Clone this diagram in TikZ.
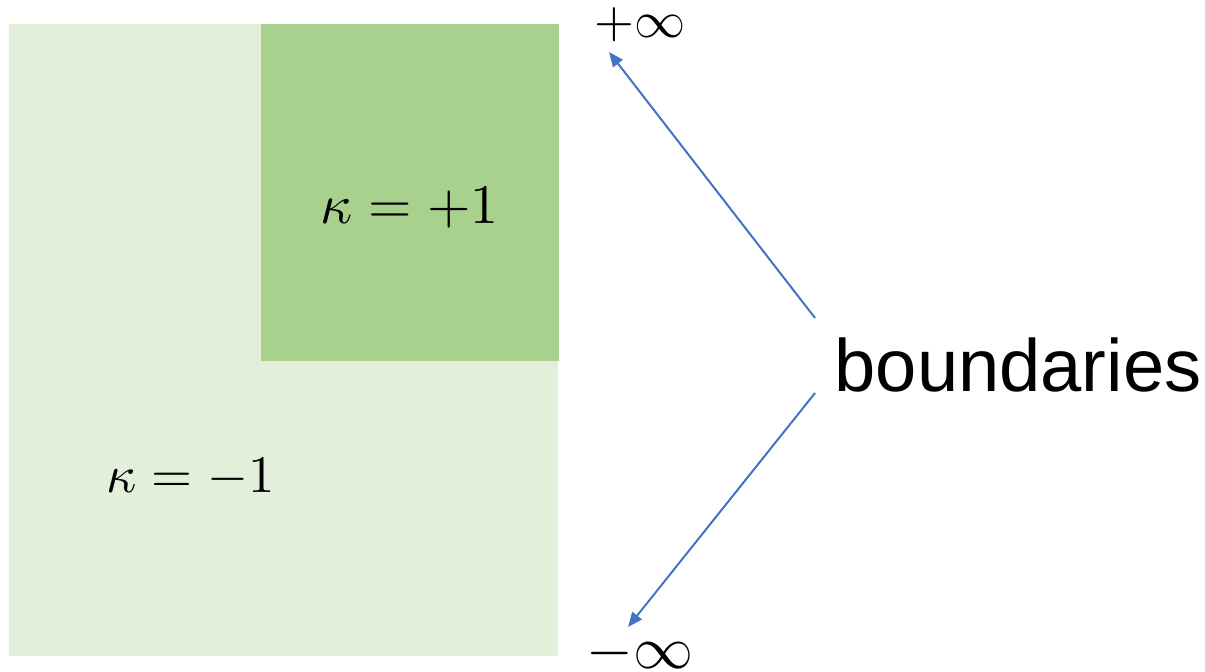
\documentclass[tikz,border=0pt]{standalone}
\usepackage{graphicx}
\usepackage{fontspec}
\newfontfamily\arialfont{Liberation Sans}
\usetikzlibrary{arrows.meta}
\definecolor{lightg}{HTML}{E2EFDA}
\definecolor{darkg}{HTML}{A9D18E}
\definecolor{arrowblue}{HTML}{4472C4}
\tikzset{
  mathlabel/.style={inner sep=0pt},
  conn/.style={draw=arrowblue, line width=1.5pt, -{Triangle[length=11pt,width=9pt]}}
}
\begin{document}
\begin{tikzpicture}[x=0.75pt,y=-0.75pt]
\useasboundingbox (0,0) rectangle (1205,671);
\fill[lightg] (9,24) rectangle (558,656);
\fill[darkg] (261,24) rectangle (559,361);
\node[mathlabel, anchor=base] (kp) at (409.5,223) {\scalebox{4.19}{$\kappa=+1$}};
\node[mathlabel, anchor=base] (km) at (190.5,492) {\scalebox{3.95}{$\kappa=-1$}};
\node[mathlabel, anchor=base] (pinf) at (640,37) {\scalebox{3.84}{$+\infty$}};
\node[mathlabel, anchor=base] (minf) at (640,668) {\scalebox{4.5}{$-\infty$}};
\node[inner sep=0pt, font=\arialfont\fontsize{55.6pt}{56pt}\selectfont] (bd) at (1018,365) {boundaries};
\coordinate (s1) at (815,318);
\coordinate (s2) at (815,393);
\coordinate (t1) at (609,52);
\coordinate (t2) at (628,627);
\draw[conn] (s1) -- (t1);
\draw[conn] (s2) -- (t2);
\end{tikzpicture}
\end{document}
